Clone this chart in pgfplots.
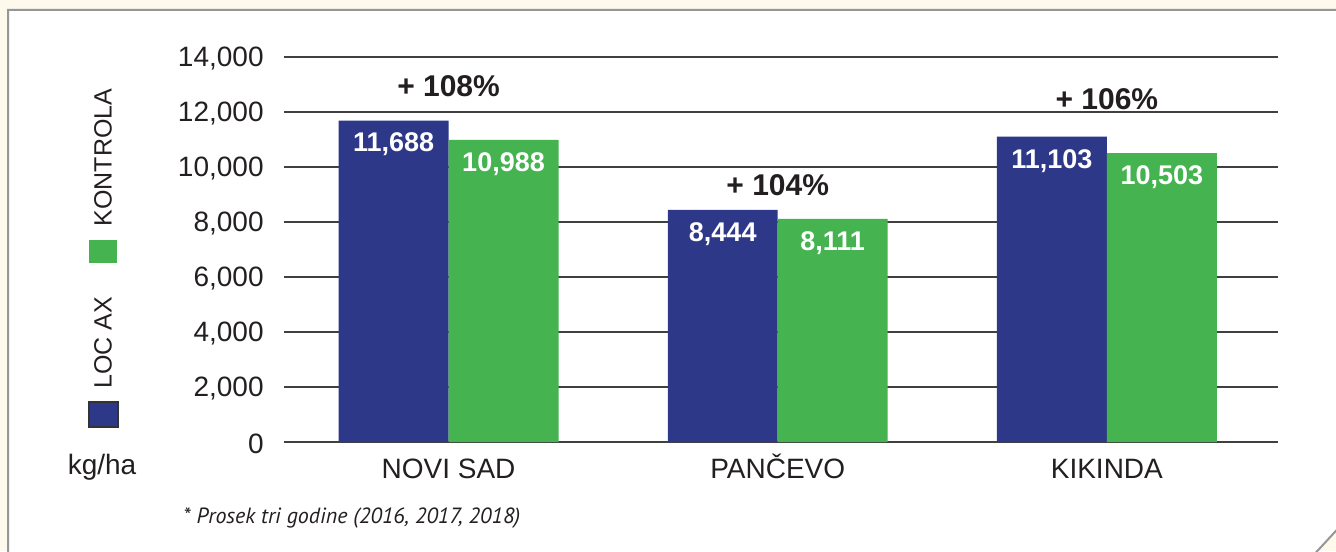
\documentclass[border=0pt]{standalone}
\usepackage{pgfplots}
\pgfplotsset{compat=1.18}
\usepackage{fontspec}
\setmainfont{Liberation Sans}
\newfontfamily\notefont{PT Sans}
\definecolor{locblue}{RGB}{46,56,136}
\definecolor{kgreen}{RGB}{69,179,80}
\definecolor{beige}{RGB}{253,249,236}
\definecolor{framegray}{RGB}{150,150,150}
\definecolor{txt}{RGB}{35,31,32}
\begin{document}
\begin{tikzpicture}[x=0.5pt,y=-0.5pt]
\useasboundingbox (0,0) rectangle (1336,551);
\clip (0,0) rectangle (1336,551);
\fill[beige] (0,0) rectangle (1336,551);
\filldraw[fill=white,draw=framegray,line width=1pt] (8,560) -- (8,10) -- (1345,10) -- (1345,521) -- (1309,560);
\begin{axis}[
 at={(142pt,-221pt)}, anchor=south west,
 scale only axis, width=497pt, height=192.5pt,
 ybar=0pt, bar width=0.334,
 ymin=0, ymax=14000, xmin=-0.5, xmax=2.52,
 ytick={0,2000,...,14000},
 scaled y ticks=false,
 xtick={0,1,2}, xticklabels={NOVI SAD, PANČEVO, KIKINDA},
 axis line style={draw=none},
 major tick length=0pt,
 ymajorgrids, grid style={black!75, line width=0.7pt},
 yticklabel style={font=\fontsize{14}{16}\selectfont, anchor=east, inner sep=0pt, xshift=-10pt, yshift=-1pt, text=txt},
 xticklabel style={font=\fontsize{14}{16}\selectfont, anchor=base, inner sep=0pt, yshift=-18pt, text=txt},
 nodes near coords,
 nodes near coords style={white, font=\bfseries\fontsize{13.5}{16}\selectfont, anchor=center, yshift=-12pt},
 /pgf/number format/1000 sep={,},
 /pgf/number format/assume math mode=true,
 clip=false,
]
\addplot[fill=locblue, draw=none] coordinates {(0,11688) (1,8444) (2,11103)};
\addplot[fill=kgreen, draw=none] coordinates {(0,10988) (1,8111) (2,10503)};
\node[font=\bfseries\fontsize{15}{18}\selectfont, text=txt] at (axis cs:0,12952) {+ 108\%};
\node[font=\bfseries\fontsize{15}{18}\selectfont, text=txt] at (axis cs:1,9334) {+ 104\%};
\node[font=\bfseries\fontsize{15}{18}\selectfont, text=txt] at (axis cs:2,12482) {+ 106\%};
\end{axis}
\fill[kgreen] (89,240) rectangle (117,263);
\filldraw[fill=locblue,draw=black!80,line width=0.6pt] (89,402) rectangle (118,427);
\node[rotate=90, font=\fontsize{12.5}{14}\selectfont, text=txt, inner sep=0pt] at (103,157.5) {KONTROLA};
\node[rotate=90, font=\fontsize{12.5}{14}\selectfont, text=txt, inner sep=0pt] at (103,342.5) {LOC AX};
\node[font=\fontsize{14}{16}\selectfont, text=txt, inner sep=0pt] at (102,467) {kg/ha};
\node[anchor=west, font=\notefont\itshape\fontsize{11}{13}\selectfont, text=txt, inner sep=0pt] at (183,518) {* Prosek tri godine (2016, 2017, 2018)};
\end{tikzpicture}
\end{document}
